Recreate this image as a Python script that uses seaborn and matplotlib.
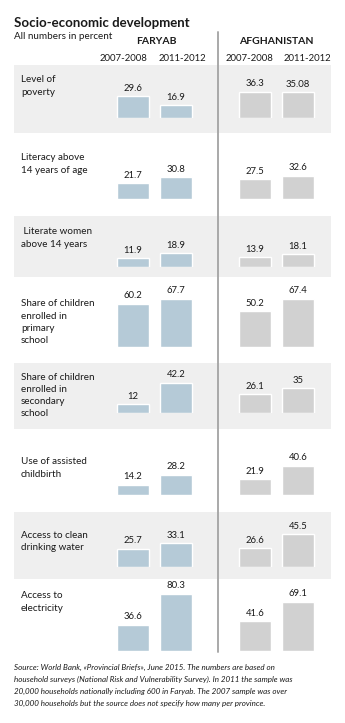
import matplotlib
matplotlib.use("Agg")
import matplotlib.pyplot as plt
import seaborn as sns
import pandas as pd

# ---- data -------------------------------------------------------------
indicators = [
    ["Level of", "poverty"],
    ["Literacy above", "14 years of age"],
    [" Literate women", "above 14 years"],
    ["Share of children", "enrolled in", "primary", "school"],
    ["Share of children", "enrolled in", "secondary", "school"],
    ["Use of assisted", "childbirth"],
    ["Access to clean", "drinking water"],
    ["Access to", "electricity"],
]
periods = ["2007-2008", "2011-2012"]
regions = ["FARYAB", "AFGHANISTAN"]
faryab_2007 = [29.6, 21.7, 11.9, 60.2, 12, 14.2, 25.7, 36.6]
faryab_2011 = [16.9, 30.8, 18.9, 67.7, 42.2, 28.2, 33.1, 80.3]
afghanistan_2007 = [36.3, 27.5, 13.9, 50.2, 26.1, 21.9, 26.6, 41.6]
afghanistan_2011 = [35.08, 32.6, 18.1, 67.4, 35, 40.6, 45.5, 69.1]

title = "Socio-economic development"
subtitle = "All numbers in percent"
source = [
    "Source: World Bank, \u00abProvincial Briefs\u00bb, June 2015. The numbers are based on",
    "household surveys (National Risk and Vulnerability Survey). In 2011 the sample was",
    "20,000 households nationally including 600 in Faryab. The 2007 sample was over",
    "30,000 households but the source does not specify how many per province.",
]

# ---- layout (pixels) --------------------------------------------------
W, H = 345, 723
row_tops = [65, 133, 216, 277, 363, 429, 512, 579]
row_bottom_last = 656
baselines = [117.5, 199, 267, 347, 413, 495, 567, 651]
label_y = [80, 158, 232, 304, 377, 462, 535, 596]
line_gap = 12.3
px_per_unit = 0.715
panel_x = {"FARYAB": (111.6, 197.6), "AFGHANISTAN": (233.4, 319.6)}
bar_colors = {"FARYAB": "#b5cad7", "AFGHANISTAN": "#d1d1d1"}
band_color = "#efefef"

sns.set_theme(style="white")
plt.rcParams["font.family"] = ["Lato", "DejaVu Sans"]
text_color = "#1a1a1a"
body_size = 7.1

fig = plt.figure(figsize=(W / 100, H / 100), dpi=100)
bg = fig.add_axes([0, 0, 1, 1])
bg.set_xlim(0, W)
bg.set_ylim(H, 0)
bg.axis("off")

# alternating grey bands (every other indicator row)
bounds = row_tops + [row_bottom_last]
for i in range(0, len(row_tops), 2):
    bg.axhspan(bounds[i], bounds[i + 1], xmin=14 / W, xmax=331 / W,
               color=band_color, lw=0, zorder=0)

# divider between the two regions
bg.plot([218, 218], [32, 652], color="#a9a9a9", lw=1.4, zorder=1)

# headings
bg.text(14, 23, title, fontsize=9.5, fontweight="bold", va="center",
        ha="left", color=text_color)
bg.text(14, 36.5, subtitle, fontsize=body_size, va="center", ha="left",
        color=text_color)
bg.text(156, 42, regions[0], fontsize=7.5, fontweight="bold",
        va="center", ha="center", color=text_color)
bg.text(276.5, 42, regions[1], fontsize=7.5, fontweight="bold",
        va="center", ha="center", color=text_color)
for xc, lab in zip([124, 182, 250, 307], periods * 2):
    bg.text(xc, 58.5, lab, fontsize=6.9, va="center", ha="center",
            color=text_color)

# indicator names
for lines, y0 in zip(indicators, label_y):
    for k, line in enumerate(lines):
        bg.text(21, y0 + k * line_gap, line, fontsize=body_size,
                va="center", ha="left", color=text_color)

# source note
for k, line in enumerate(source):
    bg.text(14, 667 + k * 12, line, fontsize=5.75, style="italic",
            va="center", ha="left", color=text_color)

# ---- bars -------------------------------------------------------------
series = {
    "FARYAB": (faryab_2007, faryab_2011),
    "AFGHANISTAN": (afghanistan_2007, afghanistan_2011),
}
for r, (top, base) in enumerate(zip(row_tops, baselines)):
    for region in regions:
        v07, v11 = series[region]
        df = pd.DataFrame({"period": periods, "value": [v07[r], v11[r]]})
        x0, x1 = panel_x[region]
        h_px = base - top
        ax = fig.add_axes([x0 / W, 1 - base / H, (x1 - x0) / W, h_px / H])
        sns.barplot(data=df, x="period", y="value", order=periods,
                    color=bar_colors[region], saturation=1, width=0.73,
                    errorbar=None, ax=ax)
        ax.set_ylim(0, h_px / px_per_unit)
        ax.set_xlim(-0.5, 1.5)
        ax.axis("off")
        ax.patch.set_alpha(0)
        ax.bar_label(ax.containers[0],
                     labels=[f"{v:g}" for v in df["value"]],
                     padding=2.5, fontsize=6.8, color=text_color)

fig.savefig("out.png", dpi=100)
